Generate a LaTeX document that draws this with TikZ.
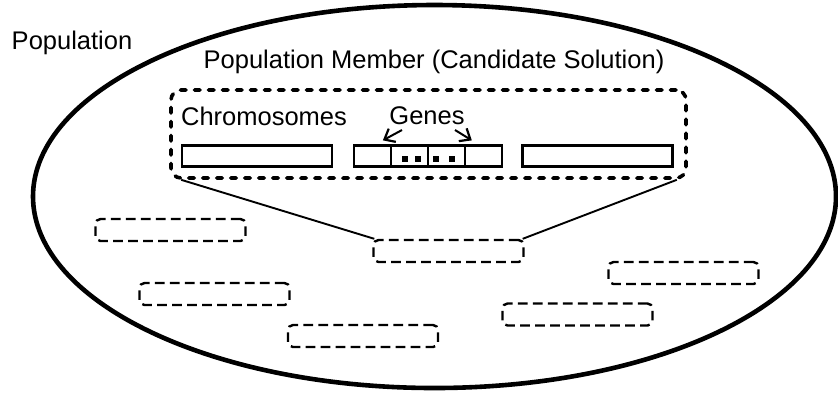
\documentclass[tikz,border=0pt]{standalone}
\usepackage{fontspec}
\setmainfont{Liberation Sans}
\usetikzlibrary{arrows.meta}
\begin{document}
\begin{tikzpicture}[x=0.5pt,y=-0.5pt,
  label text/.style={font=\fontsize{12.75}{15}\selectfont, inner sep=0pt},
  popline/.style={draw, line width=2.3pt},
  memberbox/.style={draw, line width=1.8pt, rounded corners=5pt, dash pattern=on 2.8pt off 4.2pt, line cap=round,
    minimum width=257.5pt, minimum height=44pt, inner sep=0pt},
  chromo/.style={draw, line width=1.15pt, minimum width=75pt, minimum height=10.5pt, inner sep=0pt},
  genecell/.style={draw, line width=1.15pt, minimum width=18.5pt, minimum height=10.5pt, inner sep=0pt},
  otherbox/.style={draw, line width=1.2pt, rounded corners=2.5pt, dash pattern=on 4.8pt off 2.7pt,
    minimum width=75pt, minimum height=11pt, inner sep=0pt},
  dotmark/.style={fill, minimum size=2.6pt, inner sep=0pt},
  link/.style={line width=0.95pt},
  pointer/.style={line width=1pt, -{Straight Barb[length=4.5pt,width=7.5pt,line width=1.1pt]}}]
  \useasboundingbox (0,0) rectangle (838,393);

  % the population
  \draw[popline] (434.5,196.5) ellipse [x radius=401.5, y radius=191.5];
  \node[label text] (poplabel) at (72,43) {Population};

  % one member, enlarged
  \node[label text] (memberlabel) at (434,62) {Population Member (Candidate Solution)};
  \node[memberbox] (member) at (428.5,134) {};
  \node[label text] (chromlabel) at (264,116) {Chromosomes};
  \node[label text] (geneslabel) at (427,116) {Genes};

  \node[chromo] (c1) at (257,156) {};
  \node[genecell] (g1) at (372.5,156) {};
  \node[genecell] (g2) at (409.5,156) {};
  \node[genecell] (g3) at (446.5,156) {};
  \node[genecell] (g4) at (483.5,156) {};
  \node[chromo] (c3) at (597.5,156) {};

  \node[dotmark] (d1) at (405,159) {};
  \node[dotmark] (d2) at (418,159) {};
  \node[dotmark] (d3) at (436,159) {};
  \node[dotmark] (d4) at (452,159) {};

  \coordinate (gl) at (402,130);
  \coordinate (gr) at (455,130);
  \draw[pointer] (gl) -- ([xshift=-3.5pt,yshift=2pt]g2.north west);
  \draw[pointer] (gr) -- ([xshift=4pt,yshift=2pt]g4.north west);

  % the other members
  \node[otherbox] (m1) at (170.5,230) {};
  \node[otherbox] (m2) at (214.5,294) {};
  \node[otherbox] (m3) at (448.5,251) {};
  \node[otherbox] (m4) at (683.5,273) {};
  \node[otherbox] (m5) at (577.5,314.5) {};
  \node[otherbox] (m6) at (363,336) {};

  % zoom lines from the chosen member
  \draw[link] ([xshift=6pt]member.south west) -- ([xshift=1pt]m3.north west);
  \draw[link] ([xshift=-5.5pt]member.south east) -- ([xshift=-1pt]m3.north east);
\end{tikzpicture}
\end{document}
